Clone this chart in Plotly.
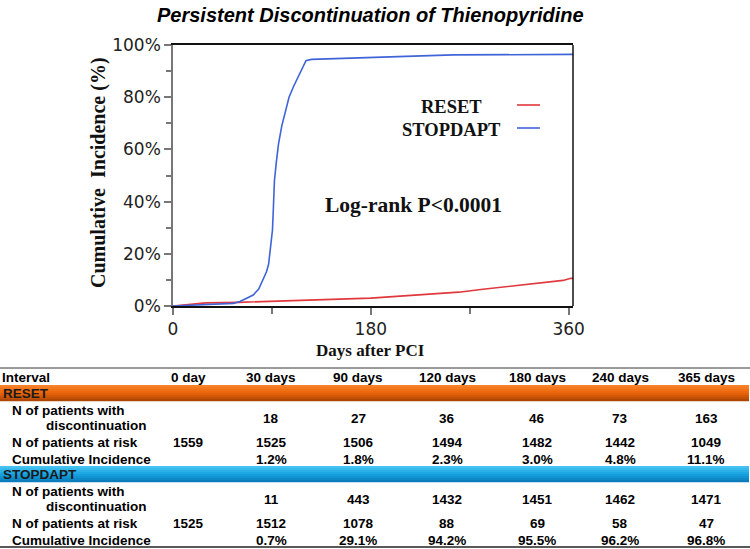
import plotly.graph_objects as go

# ---------------- data ----------------
stop_days = [0, 20, 40, 55, 61, 67, 73, 78, 82, 85, 87, 89, 90.5, 91.4, 92.3, 94, 96, 99,
             102, 105.6, 109.6, 114, 118.7, 121, 126, 180, 255, 364]
stop_pct = [0, 0.4, 0.6, 1.0, 1.7, 2.8, 4.2, 6.5, 10, 13, 16, 23, 29, 38, 48, 55, 62, 69,
            74, 80, 84, 88, 91.7, 94, 94.5, 95.3, 96.2, 96.4]

reset_days = [0, 15, 30, 60, 90, 120, 150, 180, 200, 220, 240, 260, 280, 300, 330, 355, 362, 364]
reset_pct = [0, 0.7, 1.2, 1.4, 1.8, 2.3, 2.6, 3.0, 3.6, 4.1, 4.6, 5.3, 6.3, 7.2, 8.6, 9.8, 10.6, 10.6]

intervals = ["0 day", "30 days", "90 days", "120 days", "180 days", "240 days", "365 days"]
reset_disc = ["", "18", "27", "36", "46", "73", "163"]
reset_risk = ["1559", "1525", "1506", "1494", "1482", "1442", "1049"]
reset_ci = ["", "1.2%", "1.8%", "2.3%", "3.0%", "4.8%", "11.1%"]
stop_disc = ["", "11", "443", "1432", "1451", "1462", "1471"]
stop_risk = ["1525", "1512", "1078", "88", "69", "58", "47"]
stop_ci = ["", "0.7%", "29.1%", "94.2%", "95.5%", "96.2%", "96.8%"]

x_ticks = [0, 180, 360]
y_ticks = [0, 20, 40, 60, 80, 100]
y_labels = ["0%", "20%", "40%", "60%", "80%", "100%"]

# ---------------- layout helpers ----------------
L, R, T, B = 173, 573, 45, 306
W, H = R - L, B - T


def px(x):
    return (x - L) / W


def py(y):
    return (B - y) / H


RED = "#e0383c"
BLUE = "#3f64d8"
SERIF = "Liberation Serif, Times New Roman, serif"
SANS = "Liberation Sans, Arial, sans-serif"

fig = go.Figure()
fig.add_trace(go.Scatter(x=reset_days, y=reset_pct, mode="lines",
                         line=dict(color=RED, width=1.6), name="RESET", showlegend=False))
fig.add_trace(go.Scatter(x=stop_days, y=stop_pct, mode="lines",
                         line=dict(color=BLUE, width=1.6), name="STOPDAPT", showlegend=False))

annotations = []
shapes = []

# title
annotations.append(dict(text="<b><i>Persistent Discontinuation of Thienopyridine</i></b>",
                        x=px(370), y=py(15), xref="paper", yref="paper",
                        xanchor="center", yanchor="middle", showarrow=False,
                        font=dict(family=SANS, size=20, color="#000")))
# axis titles
annotations.append(dict(text="<b>Cumulative  Incidence (%)</b>", x=px(98), y=py(173),
                        xref="paper", yref="paper", xanchor="center", yanchor="middle",
                        textangle=-90, showarrow=False,
                        font=dict(family=SERIF, size=20, color="#111")))
annotations.append(dict(text="<b>Days after PCI</b>", x=px(370), y=py(350),
                        xref="paper", yref="paper", xanchor="center", yanchor="middle",
                        showarrow=False, font=dict(family=SERIF, size=17, color="#111")))
# legend
for name, yy, col in [("RESET", 107, RED), ("STOPDAPT", 130, BLUE)]:
    annotations.append(dict(text="<b>%s</b>" % name, x=px(451), y=py(yy), xref="paper",
                            yref="paper", xanchor="center", yanchor="middle", showarrow=False,
                            font=dict(family=SERIF, size=18.5, color="#111")))
    shapes.append(dict(type="line", xref="paper", yref="paper", x0=px(517), x1=px(540),
                       y0=py(yy - 2), y1=py(yy - 2), line=dict(color=col, width=1.6)))
annotations.append(dict(text="<b>Log-rank P<0.0001</b>", x=px(413), y=py(205),
                        xref="paper", yref="paper", xanchor="center", yanchor="middle",
                        showarrow=False, font=dict(family=SERIF, size=21.5, color="#111")))

# right border
shapes.append(dict(type="line", xref="paper", yref="paper", x0=1, x1=1, y0=0, y1=1,
                   line=dict(color="#111", width=1.5)))

# ---------------- table ----------------
col_x = [188, 271, 358, 447, 537, 620, 706]


def txt(s, x, y, anchor="center", size=13.5, color="#000"):
    annotations.append(dict(text="<b>%s</b>" % s, x=px(x), y=py(y), xref="paper", yref="paper",
                            xanchor=anchor, yanchor="middle", showarrow=False,
                            font=dict(family=SANS, size=size, color=color)))


def grad_bar(y0, y1, c_top, c_mid, c_bot, n=8):
    def mix(a, b, t):
        a = [int(a[i:i + 2], 16) for i in (1, 3, 5)]
        b = [int(b[i:i + 2], 16) for i in (1, 3, 5)]
        return "#%02x%02x%02x" % tuple(int(round(a[k] + (b[k] - a[k]) * t)) for k in range(3))
    h = (y1 - y0) / n
    for i in range(n):
        t = (i + 0.5) / n
        c = mix(c_top, c_mid, t * 2) if t < 0.5 else mix(c_mid, c_bot, (t - 0.5) * 2)
        shapes.append(dict(type="rect", xref="paper", yref="paper", x0=px(0), x1=px(749),
                           y0=py(y0 + i * h), y1=py(y0 + (i + 1) * h + 0.3),
                           fillcolor=c, line=dict(width=0), layer="below"))


shapes.append(dict(type="line", xref="paper", yref="paper", x0=px(0), x1=px(750),
                   y0=py(368), y1=py(368), line=dict(color="#777", width=1.5)))
shapes.append(dict(type="line", xref="paper", yref="paper", x0=px(0), x1=px(750),
                   y0=py(547), y1=py(547), line=dict(color="#222", width=1.5)))

txt("Interval", 0, 377, "left")
for i, s in enumerate(intervals):
    txt(s, col_x[i], 377)

groups = [("RESET", 385, 401, ("#f7852e", "#ec6408", "#a84404"), reset_disc, reset_risk, reset_ci, 0),
          ("STOPDAPT", 466, 482, ("#4cc6f2", "#17a4e2", "#0a78b8"), stop_disc, stop_risk, stop_ci, 81)]
for name, y0, y1, cols, disc, risk, ci, off in groups:
    grad_bar(y0, y1, *cols)
    txt(name, 1, (y0 + y1) / 2, "left", color="#1a1a1a")
    txt("N of patients with", 10, 410 + off, "left")
    txt("discontinuation", 44, 425 + off, "left")
    txt("N of patients at risk", 10, 442 + off, "left")
    txt("Cumulative Incidence", 10, 459 + off, "left")
    for i in range(7):
        txt(disc[i], col_x[i], 418 + off)
        txt(risk[i], col_x[i], 442 + off)
        txt(ci[i], col_x[i], 459 + off)

fig.update_layout(
    width=750, height=549,
    margin=dict(l=L, r=750 - R, t=T, b=549 - B),
    paper_bgcolor="white", plot_bgcolor="white",
    showlegend=False,
    annotations=annotations, shapes=shapes,
    xaxis=dict(range=[0, 364], tickvals=x_ticks, ticktext=[str(v) for v in x_ticks],
               showgrid=False, zeroline=False, showline=True, linecolor="#111", linewidth=1.5,
               mirror=True, ticks="outside", ticklen=7, tickwidth=1.5, tickcolor="#777",
               minor=dict(tickvals=[90, 270], ticks="outside", ticklen=6, tickcolor="#777",
                          tickwidth=1.5),
               tickfont=dict(family="DejaVu Sans, Verdana, sans-serif", size=17, color="#222")),
    yaxis=dict(range=[0, 100], tickvals=y_ticks, ticktext=y_labels,
               showgrid=False, zeroline=False, showline=True, linecolor="#777", linewidth=1.5,
               ticks="outside", ticklen=7, tickwidth=1.5, tickcolor="#777",
               minor=dict(tickvals=[10, 30, 50, 70, 90], ticks="outside", ticklen=5,
                          tickcolor="#777", tickwidth=1.5),
               tickfont=dict(family="DejaVu Sans, Verdana, sans-serif", size=17, color="#222")),
)

fig.write_html("out.html", config={"displayModeBar": False},
               post_script="document.body.style.margin='0';document.body.style.overflow='hidden';")
